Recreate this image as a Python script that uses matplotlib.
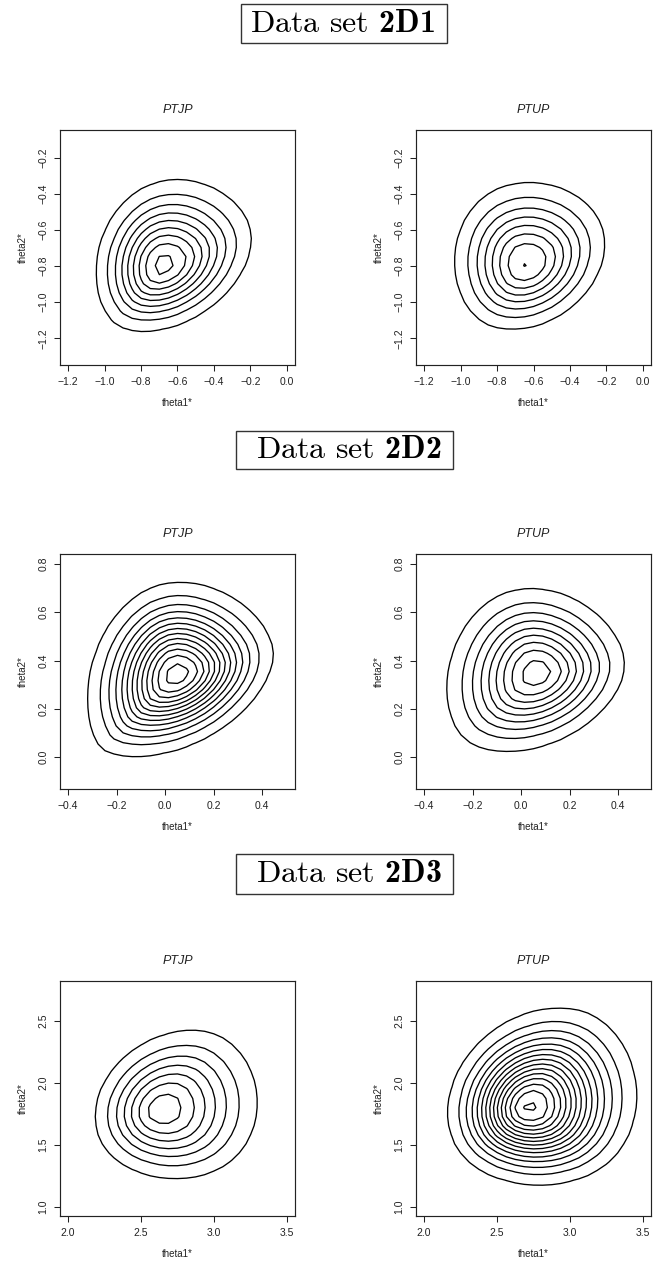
import numpy as np
import matplotlib
matplotlib.use("Agg")
import matplotlib.pyplot as plt
from matplotlib.patches import Rectangle

plt.rcParams['font.family'] = ['Liberation Sans', 'DejaVu Sans']
plt.rcParams['mathtext.fontset'] = 'custom'
plt.rcParams['mathtext.rm'] = 'cmr10'
plt.rcParams['mathtext.bf'] = 'cmb10'

# one row per data set, columns are the two samplers
data_sets = ['2D1', '2D2', '2D3']
methods = ['PTJP', 'PTUP']

# posterior mode of (theta1*, theta2*)
peak_x = [[-0.68, -0.64], [0.05, 0.065], [2.64, 2.72]]
peak_y = [[-0.80, -0.79], [0.34, 0.345], [1.78, 1.80]]

# one-sd reach of each posterior from its mode, in the directions
# E, NE, N, NW, W, SW, S, SE
directions = np.deg2rad([0, 45, 90, 135, 180, 225, 270, 315])
reach = [
    [[0.2287, 0.2486, 0.2259, 0.1894, 0.1723, 0.1941, 0.1705, 0.1660],
     [0.2100, 0.2303, 0.2215, 0.2107, 0.1911, 0.1960, 0.1759, 0.1690]],
    [[0.1730, 0.1754, 0.1675, 0.1556, 0.1613, 0.1907, 0.1473, 0.1300],
     [0.1700, 0.1649, 0.1659, 0.1673, 0.1739, 0.1885, 0.1508, 0.1400]],
    [[0.3247, 0.3550, 0.3178, 0.2383, 0.2244, 0.2483, 0.2726, 0.3103],
     [0.3152, 0.3623, 0.3431, 0.2637, 0.2380, 0.2573, 0.2659, 0.2980]],
]

# contour levels drawn, and height of the mode in units of the level step
n_levels = [[9, 8], [13, 9], [7, 15]]
peak_steps = [[9.3, 8.03], [13.5, 9.5], [7.6, 15.15]]

x_lims = [(-1.244, 0.044), (-0.433, 0.536), (1.945, 3.555)]
y_lims = [(-1.348, -0.046), (-0.132, 0.841), (0.927, 2.82)]
x_ticks = [[-1.2, -1.0, -0.8, -0.6, -0.4, -0.2, 0.0],
           [-0.4, -0.2, 0.0, 0.2, 0.4],
           [2.0, 2.5, 3.0, 3.5]]
y_ticks = [[-1.2, -1.0, -0.8, -0.6, -0.4, -0.2],
           [0.0, 0.2, 0.4, 0.6, 0.8],
           [1.0, 1.5, 2.0, 2.5]]

GRID_N = 25  # kde2d style grid


def smooth_reach(vals, theta):
    # trigonometric interpolation of the reach between the sampled directions
    n = len(vals)
    c = np.fft.rfft(vals) / n
    out = np.full_like(theta, c[0].real)
    for k in range(1, n // 2 + 1):
        w = 1.0 if 2 * k == n else 2.0
        out += w * (c[k].real * np.cos(k * theta) - c[k].imag * np.sin(k * theta))
    return out


def density(i, j, gx, gy):
    X, Y = np.meshgrid(gx, gy)
    dx = (X - peak_x[i][j])[..., None]
    dy = (Y - peak_y[i][j])[..., None]
    th = np.linspace(0, 2 * np.pi, 360, endpoint=False)
    h = smooth_reach(np.array(reach[i][j]), th)
    # gauge of the convex one-sd region, so every level set stays convex
    g = np.max((dx * np.cos(th) + dy * np.sin(th)) / h, axis=-1)
    g = np.maximum(g, 0)
    return np.exp(-0.5 * g ** 2)


def fmt(t):
    return f"{t:.1f}".replace('-', '\u2212')


W, H = 653, 1267
fig = plt.figure(figsize=(W / 100, H / 100), dpi=100)

row_top = [130, 554, 981]
col_left = [60, 416]
box = 235

for i in range(3):
    lo, hi = x_lims[i]
    span = (hi - lo) / 1.08
    gx = np.linspace(lo + 0.04 * span, hi - 0.04 * span, GRID_N)
    lo, hi = y_lims[i]
    span = (hi - lo) / 1.08
    gy = np.linspace(lo + 0.04 * span, hi - 0.04 * span, GRID_N)
    for j in range(2):
        ax = fig.add_axes([col_left[j] / W, 1 - (row_top[i] + box) / H,
                           box / W, box / H])
        z = density(i, j, gx, gy)
        step = z.max() / peak_steps[i][j]
        levels = step * np.arange(1, n_levels[i][j] + 1)
        ax.contour(gx, gy, z, levels=levels, colors='black', linewidths=0.95)

        ax.set_xlim(x_lims[i])
        ax.set_ylim(y_lims[i])
        ax.set_xticks(x_ticks[i])
        ax.set_yticks(y_ticks[i])
        ax.set_xticklabels([fmt(t) for t in x_ticks[i]])
        ax.set_yticklabels([fmt(t) for t in y_ticks[i]], rotation=90, va='center')
        ax.tick_params(direction='out', length=4.3, width=0.75,
                       labelsize=7.5, pad=4, colors='#222222')
        for s in ax.spines.values():
            s.set_linewidth(0.85)
            s.set_color('#222222')
        ax.set_xlabel('theta1*', fontsize=7, labelpad=8, color='#222222')
        ax.set_ylabel('theta2*', fontsize=7, labelpad=8, color='#222222')
        ax.set_title(methods[j], fontsize=9, style='italic', pad=12,
                     color='#222222')

# boxed headings above each row
heads = [(241, 4, 447, 43, 342), (236, 431, 453, 469, 349),
         (236, 854, 453, 894, 349)]
for (x0, y0, x1, y1, xc), name in zip(heads, data_sets):
    fig.add_artist(Rectangle((x0 / W, 1 - y1 / H), (x1 - x0) / W, (y1 - y0) / H,
                             transform=fig.transFigure, fill=False,
                             linewidth=1.0, edgecolor='#333333'))
    fig.text(xc / W, 1 - (y0 + y1) / 2 / H,
             r'$\mathrm{Data\ set\ }\mathbf{' + name + '}$',
             fontsize=23, ha='center', va='center')

fig.savefig('out.png', dpi=100)
